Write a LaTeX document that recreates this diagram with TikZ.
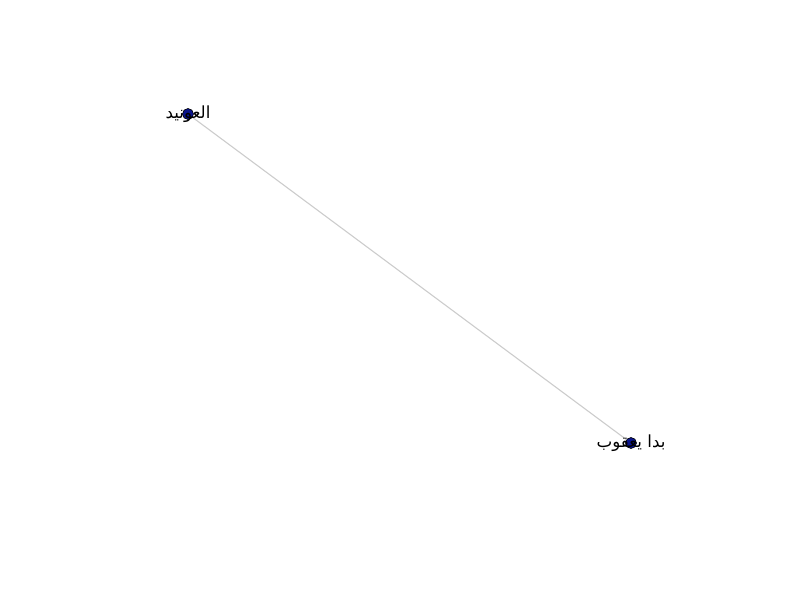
\documentclass[tikz,border=0pt]{standalone}
\usepackage{fontspec}
\newfontfamily\arabicfont[Script=Arabic]{DejaVu Sans}
\TeXXeTstate=1
\definecolor{nodefill}{RGB}{10,20,140}
\definecolor{edgegray}{RGB}{204,204,204}
\begin{document}
\begin{tikzpicture}[x=1pt,y=-1pt,
  vert/.style={circle,draw=black,line width=0.6pt,fill=nodefill,inner sep=0pt,minimum size=11pt},
  lab/.style={font=\arabicfont\fontsize{16.7}{20}\selectfont,inner sep=0pt,text=black},
  edge/.style={draw=edgegray,line width=1.1pt}]
\useasboundingbox (0,0) rectangle (800,600);
\node[vert] (a) at (188,114) {};
\node[vert] (b) at (631,443) {};
\draw[edge] (a) -- (b);
\node[lab] (la) at (a) {\beginR العونيد\endR};
\node[lab] (lb) at (b) {\beginR بدا يعقوب\endR};
\end{tikzpicture}
\end{document}
